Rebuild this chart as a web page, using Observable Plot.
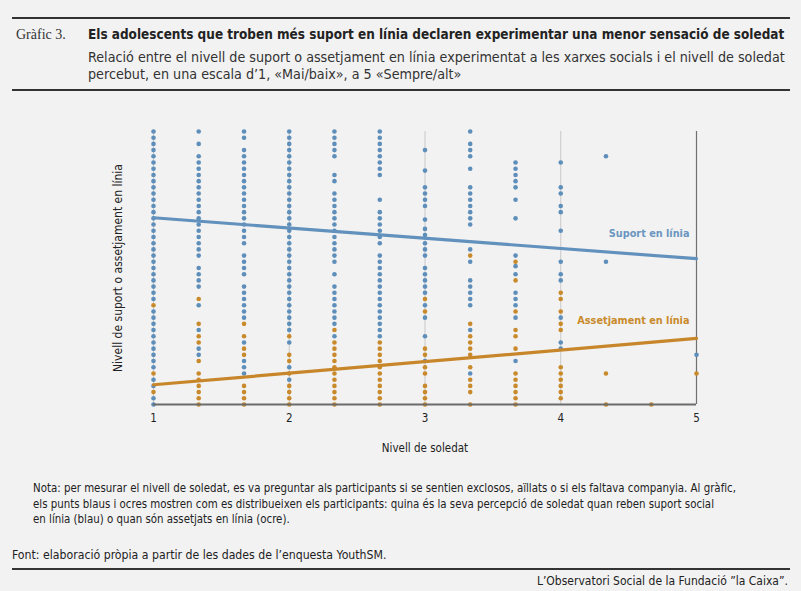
<!DOCTYPE html>
<html lang="ca">
<head>
<meta charset="utf-8">
<script src="https://cdn.jsdelivr.net/npm/d3@7"></script>
<script src="https://cdn.jsdelivr.net/npm/@observablehq/plot@0.6"></script>
<style>
  html, body { margin: 0; padding: 0; background: #f2f2f2; }
  #page { position: relative; width: 801px; height: 591px; overflow: hidden; background: #f2f2f2; color: #222;
          font-family: 'Liberation Sans Narrow', 'Arial Narrow', 'DejaVu Sans Condensed', sans-serif; }
  .abs { position: absolute; white-space: nowrap; }
  .rule { position: absolute; left: 12px; width: 778px; height: 2px; background: #333; }
  #chart { position: absolute; left: 0; top: 100px; }
</style>
</head>
<body>
<div id="page">
  <div class="rule" style="top:17px"></div>
  <div class="abs" id="gnum" style="left:16px;top:26px;font-family:'Liberation Serif','DejaVu Serif',serif;font-size:14px;line-height:18px;color:#333">Gràfic 3.</div>
  <div class="abs" id="title" data-w="697" style="left:88px;top:26px;font-weight:bold;font-size:15px;line-height:18px;color:#222"></div>
  <div id="subtitle" style="position:absolute;left:88px;top:49px;font-size:14px;line-height:17px;color:#333">
    <div class="line" id="sub1" data-w="697"></div>
    <div class="line" id="sub2"></div>
  </div>
  <div class="rule" style="top:89px"></div>
  <div id="chart"></div>
  <div id="notes" style="position:absolute;left:33px;top:481px;font-size:12px;line-height:15.5px;color:#222">
    <div id="n1" data-w="703" style="white-space:nowrap"></div>
    <div id="n2" style="white-space:nowrap"></div>
    <div id="n3" style="white-space:nowrap"></div>
  </div>
  <div class="abs" id="font" data-w="375" style="left:12px;top:547px;font-size:12px;line-height:16px;color:#222"></div>
  <div class="rule" style="top:568px"></div>
  <div class="abs" id="credit" data-w="251" style="right:13px;top:573px;font-size:12px;line-height:16px;color:#222"></div>
</div>
<script>
// ---- Texts ----
const titol = "Els adolescents que troben més suport en línia declaren experimentar una menor sensació de soledat";
const subtitol = [
  "Relació entre el nivell de suport o assetjament en línia experimentat a les xarxes socials i el nivell de soledat",
  "percebut, en una escala d’1, «Mai/baix», a 5 «Sempre/alt»"
];
const nota = [
  "Nota: per mesurar el nivell de soledat, es va preguntar als participants si se sentien exclosos, aïllats o si els faltava companyia. Al gràfic,",
  "els punts blaus i ocres mostren com es distribueixen els participants: quina és la seva percepció de soledat quan reben suport social",
  "en línia (blau) o quan són assetjats en línia (ocre)."
];
const fontText = "Font: elaboració pròpia a partir de les dades de l’enquesta YouthSM.";
const credit = "L’Observatori Social de la Fundació ”la Caixa”.";
const etiquetaX = "Nivell de soledat";
const etiquetaY = "Nivell de suport o assetjament en línia";

// ---- Data ----
// Loneliness level (x) for each column of dots
const nivellSoledat = [1, 1.333, 1.667, 2, 2.333, 2.667, 3, 3.333, 3.667, 4, 4.333, 4.667, 5];
const ticksX = [1, 2, 3, 4, 5];
// Support / harassment levels, in steps of 1/11 above 1 (0 = 1, 44 = 5), one list per column
const suportPassos = [
  [0,1,3,4,6,7,8,9,10,11,12,13,14,15,17,18,19,20,21,22,23,24,25,26,27,28,29,30,31,32,33,34,35,36,37,38,39,40,41,42,43,44],
  [8,9,12,16,19,20,21,22,24,25,26,27,28,29,30,31,32,33,34,35,36,37,38,39,40,42,44],
  [5,6,7,10,14,15,16,17,18,19,21,22,23,24,26,27,28,29,30,31,32,33,34,35,36,37,38,39,40,41,43,44],
  [4,6,10,12,13,14,15,16,17,18,19,20,21,22,23,24,25,26,27,28,29,30,31,32,33,34,35,36,37,38,39,40,41,42,43,44],
  [11,13,14,15,16,17,18,19,21,23,24,25,26,27,28,29,30,31,32,33,34,36,37,40,41,42,43,44],
  [11,12,13,14,15,16,17,18,19,20,21,22,23,24,26,27,28,29,30,31,33,37,38,39,40,41,42,43,44],
  [7,11,14,16,18,19,20,21,22,24,25,26,27.3,28.3,29.8,32,33,34,35,37.7,41],
  [5,12,16,17,18,19,20,23,25,29,30,31,32,33,34,35,38,40,41,42,44],
  [7,14,16,17,18,21,22.3,24,30,33,35,36,37,38,39],
  [9,10,14,20,21,23,28,31,32,34,35,39],
  [23,40],
  [],
  [8]
];
const assetjamentPassos = [
  [2,5,16],
  [0,1,2,3,4,5,7,10,11,13,17],
  [0,1,2,3,8,9,11,13],
  [0,1,2,3,5,7,8,11],
  [0,1,2,3,4,5,6,7,8,9,10,12],
  [0,1,2,3,4,5,6,7,8,9,10],
  [0,1,2,3,5,6,8,9,15,17],
  [0,2,3,4,6,8,9,10,11,13,24],
  [0,1,2,3,4,5,9,11,12,15,20,23],
  [1,2,3,4,5,6,12,13,15,17,18],
  [0,5],
  [0],
  [5]
];
// Trend lines (value at soledat = 1 and 5)
const tendenciaX = [1, 5];
const tendenciaSuport = [3.736, 3.136];
const tendenciaAssetjament = [1.289, 1.968];
// Line labels
const etiquetesLinia = ["Suport en línia", "Assetjament en línia"];
const etiquetesLiniaY = [3.50, 2.23];

const BLAU = "#5e8eba";
const OCRE = "#c98a2b";

// ---- Build tables ----
const pas = d => 1 + d / 11;
const punts = (llistes) => llistes.flatMap((ks, i) => ks.map(k => ({x: nivellSoledat[i], y: pas(k)})));
const puntsSuport = punts(suportPassos);
const puntsAssetjament = punts(assetjamentPassos);
const linSuport = tendenciaX.map((x, i) => ({x, y: tendenciaSuport[i]}));
const linAssetjament = tendenciaX.map((x, i) => ({x, y: tendenciaAssetjament[i]}));
const etiquetes = etiquetesLinia.map((t, i) => ({x: 5, y: etiquetesLiniaY[i], t, c: i === 0 ? "#6a96c0" : "#c98a2b"}));

// ---- Texts in page ----
document.getElementById("title").textContent = titol;
document.getElementById("sub1").textContent = subtitol[0];
document.getElementById("sub2").textContent = subtitol[1];
document.getElementById("n1").textContent = nota[0];
document.getElementById("n2").textContent = nota[1];
document.getElementById("n3").textContent = nota[2];
document.getElementById("font").textContent = fontText;
document.getElementById("credit").textContent = credit;
document.querySelectorAll("#subtitle .line").forEach(e => e.style.whiteSpace = "nowrap");

function fit(el, block) {
  const target = +el.dataset.w;
  const span = document.createElement("span");
  span.textContent = el.textContent;
  span.style.whiteSpace = "nowrap";
  el.textContent = "";
  el.appendChild(span);
  const fs = parseFloat(getComputedStyle(block || el).fontSize);
  const w = span.getBoundingClientRect().width;
  const nfs = fs * target / w;
  (block || el).style.fontSize = nfs.toFixed(2) + "px";
}
fit(document.getElementById("title"));
fit(document.getElementById("sub1"), document.getElementById("subtitle"));
fit(document.getElementById("n1"), document.getElementById("notes"));
fit(document.getElementById("font"));
fit(document.getElementById("credit"));

// ---- Chart ----
const chart = Plot.plot({
  width: 801,
  height: 365,
  marginTop: 31,
  marginBottom: 61,
  marginLeft: 153,
  marginRight: 105,
  style: {background: "transparent", fontFamily: "'Liberation Sans Narrow','Arial Narrow','DejaVu Sans Condensed',sans-serif", fontSize: "12px", color: "#222"},
  x: {domain: [1, 5]},
  y: {domain: [1, 5]},
  marks: [
    Plot.ruleX(ticksX.slice(0, 4), {stroke: "#c8c8c8", strokeWidth: 1}),
    Plot.ruleX([5], {stroke: "#707070", strokeWidth: 1.2}),
    Plot.dot(puntsSuport, {x: "x", y: "y", r: 2.3, fill: BLAU, stroke: null}),
    Plot.dot(puntsAssetjament, {x: "x", y: "y", r: 2.3, fill: OCRE, stroke: null}),
    Plot.line(linSuport, {x: "x", y: "y", stroke: "#6191bc", strokeWidth: 3.2}),
    Plot.line(linAssetjament, {x: "x", y: "y", stroke: "#c8862a", strokeWidth: 3.2}),
    Plot.ruleY([1], {stroke: "#6b6b6b", strokeWidth: 2}),
    Plot.axisX({ticks: ticksX, tickSize: 0, tickPadding: 9, tickFormat: d => String(d), fontSize: 11.5,
                label: etiquetaX, labelAnchor: "center", labelArrow: "none", labelOffset: 47}),
    Plot.axisY({ticks: [], tickSize: 0, label: etiquetaY, labelAnchor: "center", labelArrow: "none", labelOffset: 40, fontSize: 12}),
    Plot.text(etiquetes, {x: "x", y: "y", text: "t", fill: "c", textAnchor: "end", dx: -7, fontSize: 10.8, fontWeight: "bold"})
  ]
});
document.getElementById("chart").appendChild(chart);
</script>
</body>
</html>
